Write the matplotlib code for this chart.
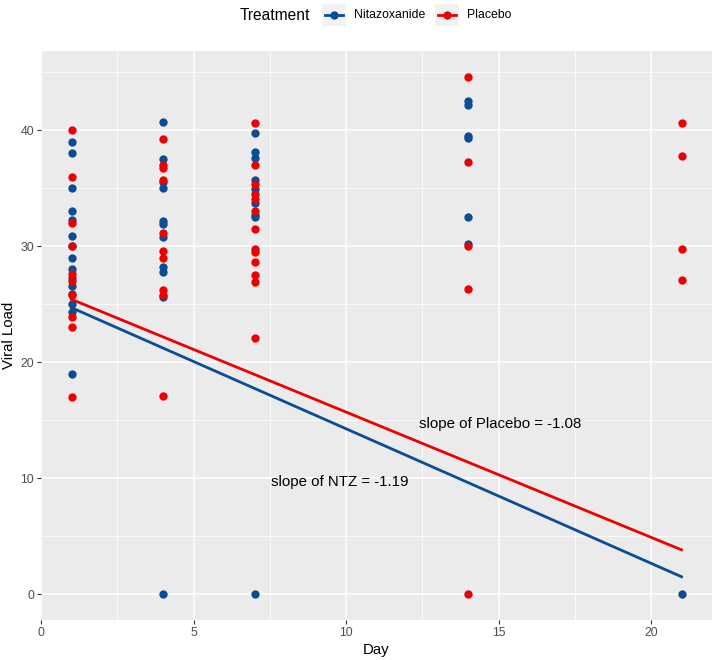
import matplotlib
matplotlib.use("Agg")
import matplotlib.pyplot as plt
from matplotlib.patches import Rectangle
from matplotlib.lines import Line2D
import numpy as np

plt.rcParams['font.family'] = ['Liberation Sans', 'DejaVu Sans']

# Viral load readings
ntz_day = [1] * 15 + [4] * 11 + [7] * 9 + [14] * 6 + [21]
ntz_load = [39, 38, 35, 33, 32.3, 30.9, 30, 29, 28, 27.3, 26.6, 25.9, 25, 24.3, 19,
            40.7, 37.5, 35.5, 35.0, 32.2, 31.9, 30.8, 28.2, 27.8, 25.6, 0,
            39.8, 38.1, 37.6, 35.7, 34.9, 33.7, 32.7, 32.5, 0,
            42.5, 42.2, 39.5, 39.3, 32.5, 30.2,
            0]

pla_day = [1] * 10 + [4] * 10 + [7] * 13 + [14] * 5 + [21] * 4
pla_load = [40, 36, 32, 30, 27.6, 27, 25.8, 23.9, 23, 17,
            39.2, 37.0, 36.7, 35.7, 31.1, 29.6, 29.0, 26.2, 25.8, 17.1,
            40.6, 37.0, 35.4, 34.5, 34.1, 33.0, 31.5, 29.8, 29.5, 28.6, 27.5, 26.9, 22.1,
            44.6, 37.3, 30.0, 26.3, 0,
            40.6, 37.8, 29.8, 27.1]

# fitted lines as drawn on the chart (intercept, slope)
ntz_fit = (25.86, -1.16)
pla_fit = (26.5, -1.08)
fit_days = [1, 21]

labels = ["Nitazoxanide", "Placebo"]
colors = ["#0B4C96", "#EE0000"]
notes = [("slope of NTZ = -1.19", 9.8, 9.7), ("slope of Placebo = -1.08", 15.05, 14.7)]

W, H = 714, 660
fig = plt.figure(figsize=(W / 100, H / 100), dpi=100)
ax = fig.add_axes([41 / W, 1 - 620 / H, (712 - 41) / W, (620 - 51) / H])
ax.set_facecolor("#EBEBEB")
for s in ax.spines.values():
    s.set_visible(False)

# grid, ggplot style
for v in [2.5, 7.5, 12.5, 17.5]:
    ax.axvline(v, color="white", lw=0.55, zorder=0)
for v in [5, 15, 25, 35, 45]:
    ax.axhline(v, color="white", lw=0.55, zorder=0)
for v in [0, 5, 10, 15, 20]:
    ax.axvline(v, color="white", lw=1.1, zorder=0)
for v in [0, 10, 20, 30, 40]:
    ax.axhline(v, color="white", lw=1.1, zorder=0)

ax.scatter(ntz_day, ntz_load, s=36, color=colors[0], zorder=3, linewidths=0)
ax.scatter(pla_day, pla_load, s=36, color=colors[1], zorder=3, linewidths=0)

d = np.array(fit_days)
ax.plot(d, ntz_fit[0] + ntz_fit[1] * d, color=colors[0], lw=2, zorder=4)
ax.plot(d, pla_fit[0] + pla_fit[1] * d, color=colors[1], lw=2, zorder=4)

for txt, x, y in notes:
    ax.text(x, y, txt, ha="center", va="center", fontsize=10.8, color="black", zorder=5)

ax.set_xlim(0, 22)
ax.set_ylim(-2.23, 46.83)
ax.set_xticks([0, 5, 10, 15, 20])
ax.set_yticks([0, 10, 20, 30, 40])
ax.tick_params(axis="both", length=3, width=0.8, color="#333333",
               labelsize=8.8, labelcolor="#4D4D4D", pad=2)
ax.set_xlabel("Day", fontsize=10.8, labelpad=3)
ax.set_ylabel("Viral Load", fontsize=10.8, labelpad=3)

# legend along the top
ly = 15
fig.text(240 / W, 1 - ly / H, "Treatment", fontsize=11.2, va="center", ha="left")
key_x = [322, 435]
text_x = [354, 467]
for kx, tx, lab, col in zip(key_x, text_x, labels, colors):
    fig.patches.append(Rectangle((kx / W, 1 - (ly + 11) / H), 24 / W, 22 / H,
                                 transform=fig.transFigure, facecolor="#F2F2F2",
                                 edgecolor="none"))
    fig.lines.append(Line2D([(kx + 3) / W, (kx + 21) / W], [1 - ly / H, 1 - ly / H],
                            transform=fig.transFigure, color=col, lw=2))
    fig.lines.append(Line2D([(kx + 12) / W], [1 - ly / H], transform=fig.transFigure,
                            color=col, marker="o", markersize=6, markeredgewidth=0))
    fig.text(tx / W, 1 - ly / H, lab, fontsize=8.8, va="center", ha="left")

fig.savefig("out.png", dpi=100)
